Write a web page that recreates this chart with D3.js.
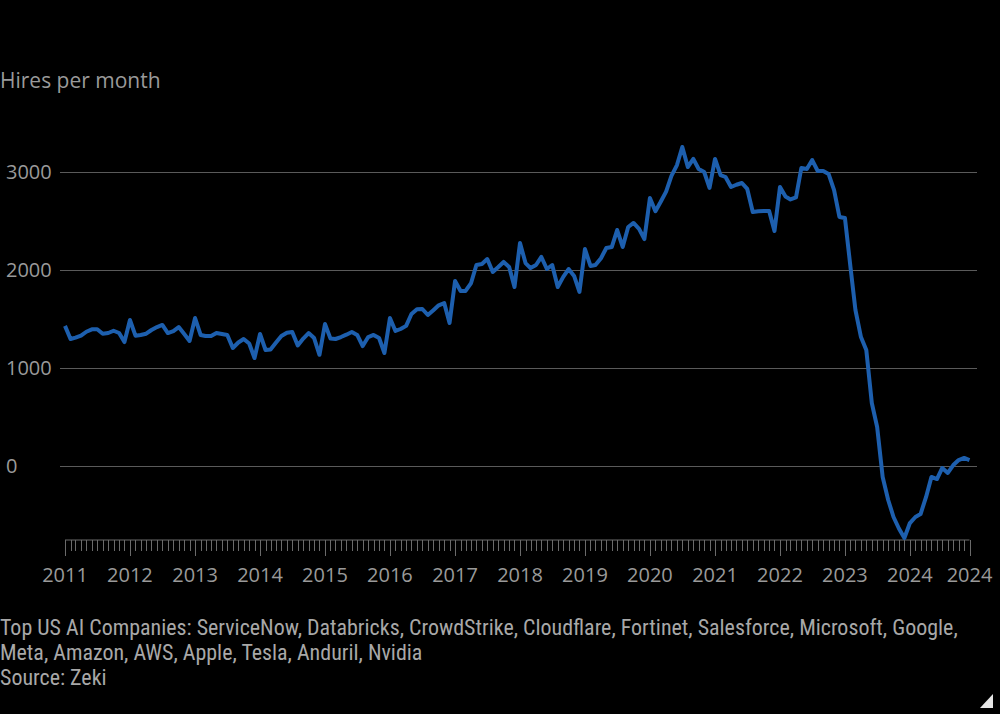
<!DOCTYPE html>
<html>
<head>
<meta charset="utf-8">
<script src="https://cdn.jsdelivr.net/npm/d3@7"></script>
<style>
  html, body { margin: 0; padding: 0; background: #000; }
  svg { display: block; }
</style>
</head>
<body>
<svg id="chart" width="1000" height="714"></svg>
<script>
// monthly hires, Jan 2011 .. Dec 2024 (one row per year)
const hires = [
  1430, 1296, 1310, 1330, 1370, 1395, 1395, 1350, 1357, 1380, 1357, 1265,
  1490, 1330, 1337, 1350, 1388, 1418, 1439, 1357, 1377, 1418, 1347, 1276,
  1510, 1337, 1327, 1327, 1357, 1347, 1337, 1204, 1260, 1296, 1250, 1102,
  1347, 1184, 1190, 1260, 1327, 1360, 1367, 1230, 1300, 1357, 1306, 1135,
  1449, 1300, 1296, 1316, 1340, 1367, 1337, 1224, 1316, 1337, 1306, 1153,
  1510, 1378, 1398, 1430, 1551, 1600, 1602, 1541, 1590, 1640, 1663, 1459,
  1888, 1786, 1786, 1867, 2051, 2061, 2112, 1980, 2030, 2082, 2031, 1827,
  2276, 2071, 2020, 2051, 2133, 2010, 2051, 1827, 1930, 2010, 1940, 1776,
  2214, 2041, 2051, 2120, 2224, 2235, 2408, 2235, 2439, 2480, 2420, 2316,
  2735, 2600, 2694, 2800, 2960, 3071, 3255, 3051, 3133, 3031, 3000, 2837,
  3133, 2969, 2949, 2847, 2870, 2888, 2827, 2592, 2600, 2602, 2602, 2398,
  2847, 2750, 2720, 2740, 3041, 3031, 3122, 3010, 3010, 2980, 2816, 2541,
  2531, 2031, 1592, 1316, 1184, 643, 398, -112, -347, -520, -640, -735,
  -582, -520, -490, -316, -112, -133, -20, -71, 10, 61, 82, 61
];
const firstMonth = new Date(2011, 0, 1);
const lastMonth = new Date(2024, 11, 1);
const yTicks = [0, 1000, 2000, 3000];
const yearTicks = d3.range(2011, 2025);
const title = "Hires per month";
const footnotes = [
  "Top US AI Companies: ServiceNow, Databricks, CrowdStrike, Cloudflare, Fortinet, Salesforce, Microsoft, Google,",
  "Meta, Amazon, AWS, Apple, Tesla, Anduril, Nvidia",
  "Source: Zeki"
];

const svg = d3.select("#chart");
const textColor = "#9a9a9a";
const font = "'Open Sans', sans-serif";

const months = d3.timeMonth.range(firstMonth, d3.timeMonth.offset(lastMonth, 1));
const data = months.map((d, i) => ({ date: d, value: hires[i] }));

// scales
const x = d3.scaleTime().domain([firstMonth, lastMonth]).range([65, 969.5]);
const y = d3.scaleLinear().domain([-760, 3000]).range([540.5, 172]);

// title
svg.append("text")
  .attr("x", 0).attr("y", 88)
  .attr("fill", textColor)
  .style("font-family", font).style("font-size", "21px")
  .text(title);

// horizontal grid + y labels
const yAxis = svg.append("g");
yAxis.selectAll("line")
  .data(yTicks).enter().append("line")
  .attr("x1", 60).attr("x2", 977)
  .attr("y1", d => Math.round(y(d)) + 0.5)
  .attr("y2", d => Math.round(y(d)) + 0.5)
  .attr("stroke", "#5a5a5a").attr("stroke-width", 1);
yAxis.selectAll("text")
  .data(yTicks).enter().append("text")
  .attr("x", 6).attr("y", d => y(d) + 7)
  .attr("fill", textColor)
  .style("font-family", font).style("font-size", "20px")
  .text(d => d);

// x axis: baseline, monthly ticks, year labels
const xAxis = svg.append("g").attr("transform", "translate(0,540)");
xAxis.append("line")
  .attr("x1", x(firstMonth)).attr("x2", x(lastMonth))
  .attr("stroke", "#6a6a6a");
xAxis.selectAll(".tick")
  .data(months).enter().append("line")
  .attr("class", "tick")
  .attr("x1", d => Math.round(x(d)) + 0.5)
  .attr("x2", d => Math.round(x(d)) + 0.5)
  .attr("y1", 0)
  .attr("y2", (d, i) => (d.getMonth() === 0 || i === months.length - 1) ? 16 : 11)
  .attr("stroke", "#6a6a6a");

const yearLabels = yearTicks.map(yr => ({ date: new Date(yr, 0, 1), label: yr }));
yearLabels.push({ date: lastMonth, label: 2024 });
xAxis.selectAll(".yl")
  .data(yearLabels).enter().append("text")
  .attr("class", "yl")
  .attr("x", d => x(d.date)).attr("y", 42)
  .attr("text-anchor", "middle")
  .attr("fill", textColor)
  .style("font-family", font).style("font-size", "20px")
  .text(d => d.label);

// the line
const line = d3.line()
  .x(d => x(d.date))
  .y(d => y(d.value));

svg.append("path")
  .datum(data)
  .attr("d", line)
  .attr("fill", "none")
  .attr("stroke", "#1d5fae")
  .attr("stroke-width", 4)
  .attr("stroke-linejoin", "round");

// footnotes, sized so the first line spans like the original
const notes = svg.selectAll(".note")
  .data(footnotes).enter().append("text")
  .attr("class", "note")
  .attr("x", 0).attr("y", (d, i) => 635 + i * 25)
  .attr("fill", "#a8a8a8")
  .style("font-family", "'Liberation Sans Narrow', 'Roboto Condensed', sans-serif")
  .style("font-size", "18px")
  .text(d => d);
const w0 = notes.node().getComputedTextLength();
notes.style("font-size", (18 * 958 / w0).toFixed(2) + "px");

// corner mark
svg.append("path")
  .attr("d", "M993,694 L993,708 L980,708 Z")
  .attr("fill", "#e6e6e6");
</script>
</body>
</html>
